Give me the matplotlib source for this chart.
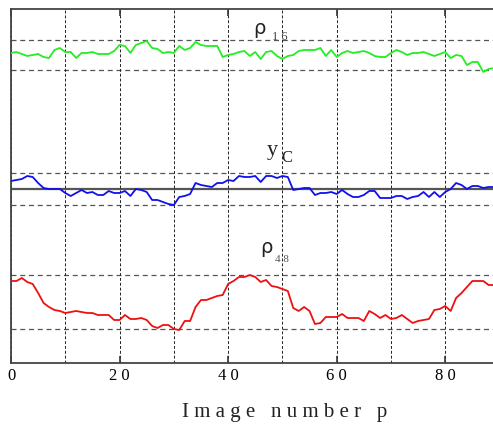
import numpy as np
import matplotlib
matplotlib.use('Agg')
import matplotlib.pyplot as plt

# image index p
p = np.arange(90)

# traces, in arbitrary vertical units
rho16 = [310, 311, 309, 307, 308, 309, 306, 305, 313, 315,
         311, 311, 305, 310, 310, 311, 309, 309, 309, 312,
         318, 317, 310, 318, 320, 322, 315, 314, 310, 311,
         310, 317, 313, 315, 321, 318, 317, 317, 317, 306,
         308, 309, 311, 312, 307, 311, 304, 311, 312, 307,
         304, 307, 308, 312, 313, 313, 313, 315, 307, 313,
         306, 310, 312, 310, 311, 312, 310, 307, 306, 306,
         310, 313, 311, 308, 310, 310, 311, 309, 307, 309,
         311, 305, 308, 307, 298, 301, 301, 291, 294, 295]
yc = [182, 183, 184, 187, 186, 180, 175, 174, 174, 174,
      170, 167, 170, 173, 170, 171, 168, 168, 172, 170,
      170, 172, 167, 174, 173, 171, 163, 163, 161, 159,
      158, 166, 167, 169, 180, 178, 177, 176, 180, 180,
      183, 182, 187, 186, 186, 187, 181, 187, 187, 185,
      187, 186, 173, 174, 175, 175, 168, 170, 170, 171,
      169, 173, 169, 166, 166, 168, 172, 172, 165, 165,
      165, 167, 167, 164, 166, 167, 171, 166, 171, 166,
      171, 174, 180, 178, 174, 177, 177, 175, 176, 176]
rho48 = [82, 82, 85, 81, 79, 70, 60, 56, 53, 52,
         50, 51, 52, 51, 50, 50, 48, 48, 48, 43,
         43, 48, 44, 44, 45, 43, 37, 35, 38, 38,
         34, 33, 42, 42, 56, 63, 63, 65, 67, 68,
         79, 82, 86, 86, 88, 86, 81, 83, 77, 76,
         74, 72, 55, 52, 56, 52, 39, 40, 46, 46,
         46, 49, 45, 45, 45, 42, 52, 49, 45, 48,
         44, 45, 48, 44, 40, 42, 43, 44, 53, 54,
         57, 52, 65, 70, 76, 82, 82, 82, 78, 78]

# reference levels
band16 = [293, 323]
bandc = [158, 190]
line_c = 174
band48 = [34, 88]

xticks = [0, 20, 40, 60, 80]
xticklabels = ['0', '2 0', '4 0', '6 0', '8 0']

fig = plt.figure(figsize=(4.93, 4.27), dpi=100)
ax = fig.add_axes([11 / 493, 63 / 427, 482 / 493, 354 / 427])
ax.set_xlim(0, 88.8)
ax.set_ylim(0, 354)

dash = dict(color='#555555', linestyle=(0, (4, 3)), linewidth=0.9, zorder=1)
for v in band16 + bandc + band48:
    ax.axhline(v, **dash)
ax.axhline(line_c, color='#555555', linewidth=1.6, zorder=1)

ax.set_xticks(xticks)
ax.set_xticks(np.arange(10, 90, 20), minor=True)
ax.set_xticklabels(xticklabels, family='Liberation Serif', fontsize=12)
ax.tick_params(axis='x', which='major', direction='in', top=True, bottom=True,
               length=5, width=1.2, color='#333333', pad=3)
ax.tick_params(axis='x', which='minor', length=0)
ax.set_yticks([])
ax.grid(True, axis='x', which='both', color='#222222', linestyle=(0, (3, 2)), linewidth=0.7)

ax.plot(p, rho16, color='#22ee22', linewidth=1.3, zorder=3)
ax.plot(p, yc, color='#1010ee', linewidth=1.3, zorder=3)
ax.plot(p, rho48, color='#ee1010', linewidth=1.3, zorder=3)

for s in ['left', 'bottom', 'top']:
    ax.spines[s].set_color('#444444')
    ax.spines[s].set_linewidth(1.3)
ax.spines['right'].set_visible(False)

# series labels
ax.text(44.6, 330.5, 'ρ', fontsize=14, family='DejaVu Sans', color='#222222')
ax.text(48.1, 324, '1 6', fontsize=9, family='Liberation Serif', color='#444444')
ax.text(47.1, 208.5, 'y', fontsize=16, family='Liberation Serif', color='#222222')
ax.text(49.9, 202, 'C', fontsize=12, family='Liberation Serif', color='#222222')
ax.text(45.9, 111, 'ρ', fontsize=14, family='DejaVu Sans', color='#222222')
ax.text(48.6, 102, '4 8', fontsize=8, family='Liberation Serif', color='#555555')

fig.text(285 / 493, 1 - 413 / 427, 'I m a g e   n u m b e r   p', family='Liberation Serif',
         fontsize=15, ha='center', va='center', color='#222222')

fig.savefig('out.png', dpi=100, facecolor='white')
